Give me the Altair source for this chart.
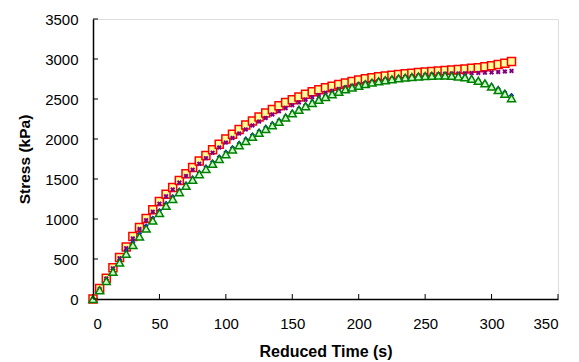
import altair as alt
import pandas as pd

time_s = [0, 5, 10, 15, 20, 25, 30, 35, 40, 45, 50, 55, 60, 65, 70, 75, 80, 85, 90, 95,
          100, 105, 110, 115, 120, 125, 130, 135, 140, 145, 150, 155, 160, 165, 170, 175,
          180, 185, 190, 195, 200, 205, 210, 215, 220, 225, 230, 235, 240, 245, 250, 255,
          260, 265, 270, 275, 280, 285, 290, 295, 300, 305, 310, 315]

stress_red = [0, 130, 260, 390, 520, 650, 780, 895, 1005, 1115, 1220, 1310, 1395, 1480, 1565, 1645,
              1725, 1795, 1865, 1935, 2000, 2060, 2120, 2175, 2225, 2275, 2325, 2370, 2415, 2455,
              2490, 2525, 2560, 2590, 2615, 2640, 2660, 2680, 2700, 2720, 2737, 2752, 2765, 2777,
              2788, 2798, 2807, 2815, 2823, 2830, 2837, 2843, 2849, 2855, 2861, 2868, 2875, 2883,
              2892, 2903, 2915, 2930, 2948, 2968]

stress_purple = [0, 125, 255, 383, 510, 635, 757, 875, 985, 1090, 1190, 1283, 1370, 1455, 1537, 1615,
                 1690, 1760, 1828, 1893, 1955, 2013, 2068, 2120, 2170, 2218, 2263, 2306, 2347, 2386,
                 2423, 2458, 2491, 2522, 2551, 2578, 2603, 2626, 2647, 2666, 2684, 2700, 2715, 2729,
                 2742, 2754, 2765, 2775, 2784, 2792, 2799, 2805, 2810, 2814, 2817, 2820, 2822, 2824,
                 2826, 2829, 2833, 2838, 2844, 2851]

stress_blue = [0, 120, 245, 365, 485, 600, 710, 815, 915, 1012, 1105, 1195, 1280, 1362, 1440, 1515,
               1585, 1652, 1716, 1777, 1836, 1893, 1948, 2001, 2052, 2101, 2148, 2193, 2237, 2288,
               2338, 2385, 2428, 2468, 2506, 2541, 2574, 2604, 2632, 2657, 2680, 2700, 2718, 2734,
               2748, 2760, 2770, 2779, 2786, 2792, 2797, 2800, 2802, 2802, 2799, 2791, 2778, 2760,
               2736, 2706, 2670, 2630, 2588, 2545]

stress_green = [0, 110, 225, 340, 455, 565, 675, 780, 880, 980, 1075, 1165, 1250, 1335, 1415, 1490,
                1560, 1625, 1690, 1750, 1810, 1867, 1922, 1975, 2027, 2077, 2125, 2170, 2215, 2268,
                2320, 2366, 2410, 2451, 2490, 2526, 2560, 2591, 2620, 2644, 2665, 2686, 2705, 2721,
                2735, 2747, 2758, 2767, 2775, 2782, 2787, 2790, 2792, 2792, 2790, 2782, 2770, 2752,
                2728, 2697, 2655, 2612, 2565, 2510]

x_ticks = [0, 50, 100, 150, 200, 250, 300, 350]
y_ticks = [0, 500, 1000, 1500, 2000, 2500, 3000, 3500]

W, H = 465, 280
FONT = "Liberation Sans"

xscale = alt.Scale(domain=[0, 350], nice=False, zero=False)
yscale = alt.Scale(domain=[0, 3500], nice=False, zero=False)

xaxis = alt.Axis(values=x_ticks, title="Reduced Time (s)", tickSize=0, labelPadding=17,
                 titlePadding=12, grid=False, labelFontSize=15, titleFontSize=16,
                 labelFont=FONT, titleFont=FONT, labelColor="black", titleColor="black",
                 domainColor="black", domainWidth=1.5, titleFontWeight="bold", format="d")
yaxis = alt.Axis(values=y_ticks, title="Stress (kPa)", tickSize=0, labelPadding=15,
                 titlePadding=12, grid=False, labelFontSize=15, titleFontSize=15.5,
                 labelFont=FONT, titleFont=FONT, labelColor="black", titleColor="black",
                 domainColor="black", domainWidth=1.5, titleFontWeight="bold", format="d")


def series_df(vals):
    return pd.DataFrame({"t": time_s, "s": vals})


def pts(vals, **mark):
    return alt.Chart(series_df(vals)).mark_point(opacity=1, **mark).encode(
        x=alt.X("t:Q", scale=xscale, axis=xaxis),
        y=alt.Y("s:Q", scale=yscale, axis=yaxis),
    )


red = pts(stress_red, shape="square", size=64, filled=True, fill="#FFFF99",
          stroke="#FF0000", strokeWidth=1.5)
purple = pts(stress_purple, shape="cross", size=26, filled=True, color="#800080", angle=45)
blue = pts(stress_blue, shape="diamond", size=26, filled=True, color="#0000FF")
green = pts(stress_green, shape="triangle-up", size=64, filled=True, fill="#CCFFCC",
            stroke="#008000", strokeWidth=1.5)

xt = alt.Chart(pd.DataFrame({"t": x_ticks})).mark_rule(color="black", strokeWidth=1).encode(
    x=alt.X("t:Q", scale=xscale, axis=xaxis), y=alt.value(H), y2=alt.value(H - 5))
yt = alt.Chart(pd.DataFrame({"s": y_ticks})).mark_rule(color="black", strokeWidth=1).encode(
    y=alt.Y("s:Q", scale=yscale, axis=yaxis), x=alt.value(0), x2=alt.value(5))

chart = alt.layer(red, purple, blue, green, xt, yt).properties(
    width=W, height=H,
    padding={"left": 9, "top": 4, "right": 5, "bottom": 5},
).configure_view(stroke="black", strokeWidth=1.5).configure(background="white")

chart.save("out.html", embed_options={"renderer": "svg", "actions": False})
